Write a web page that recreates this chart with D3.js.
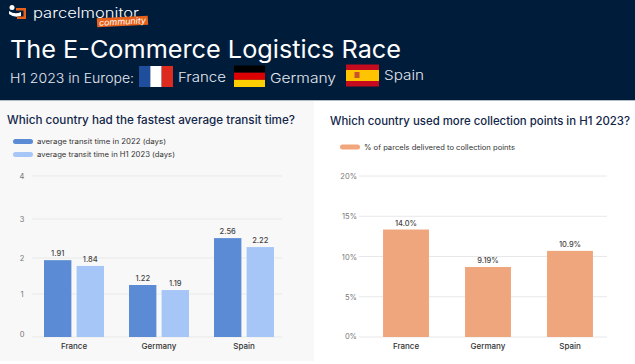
<!DOCTYPE html>
<html>
<head>
<meta charset="utf-8">
<script src="https://cdnjs.cloudflare.com/ajax/libs/d3/7.8.5/d3.min.js"></script>
<style>
html, body { margin: 0; padding: 0; background: #fff; overflow: hidden; }
text { font-family: Inter, "Noto Sans", sans-serif; }
</style>
</head>
<body>
<div id="chart"></div>
<script>
const countries = ["France", "Germany", "Spain"];

// bar heights read against the gridlines; the printed labels don't quite agree with them
const transit2022 = [1.94, 1.25, 2.51];
const transitH1 = [1.78, 1.11, 2.28];
const transit2022Labels = ["1.91", "1.22", "2.56"];
const transitH1Labels = ["1.84", "1.19", "2.22"];
const transitTicks = [0, 1, 2, 3, 4];

const collection = [13.35, 8.7, 10.7];
const collectionLabels = ["14.0%", "9.19%", "10.9%"];
const collectionTicks = [0, 5, 10, 15, 20];

const navy = "#001c3b";
const svg = d3.select("#chart").append("svg")
    .attr("width", 635)
    .attr("height", 364)
    .style("display", "block");

// backgrounds
svg.append("rect").attr("width", 635).attr("height", 100).attr("fill", navy);
svg.append("rect").attr("y", 100).attr("width", 635).attr("height", 1).attr("fill", "#b4bac6");
svg.append("rect").attr("y", 101).attr("width", 314).attr("height", 260).attr("fill", "#f8f8f8");

function label(x, y, str, size, fill, weight, len) {
    const t = svg.append("text")
        .attr("x", x)
        .attr("y", y)
        .attr("font-size", size)
        .attr("fill", fill)
        .attr("font-weight", weight || 400)
        .text(str);
    if (len) t.attr("textLength", len).attr("lengthAdjust", "spacingAndGlyphs");
    return t;
}

// logo
svg.append("circle").attr("cx", 12).attr("cy", 7.5).attr("r", 2.5).attr("fill", "#fff");
svg.append("path")
    .attr("d", "M9 11 Q15 15 21 12 L21 16 Q14 18 9 14 Z")
    .attr("fill", "#fff");
svg.append("path")
    .attr("d", "M16 8 H26 V19 H17 V16.5 H23.5 V10.5 H16 Z")
    .attr("fill", "#e8611a");
label(33, 18, "parcelmonitor", 14, "#fff", 300, 106);
svg.append("g")
    .attr("transform", "rotate(-3 123 22)")
    .call(g => {
        g.append("rect").attr("x", 97).attr("y", 17).attr("width", 51).attr("height", 9).attr("fill", "#e8611a");
        g.append("text").attr("x", 99).attr("y", 24.5).attr("font-size", 8.5).attr("fill", "#fff")
            .attr("font-style", "italic").attr("textLength", 47).attr("lengthAdjust", "spacingAndGlyphs").text("community");
    });

// header text
label(10, 58, "The E-Commerce Logistics Race", 24.5, "#fff", 400, 391);
label(10, 83, "H1 2023 in Europe:", 13.5, "#e4e8ee", 300, 124);
label(178, 82, "France", 13.5, "#e4e8ee", 300, 48);
label(270, 83, "Germany", 13.5, "#e4e8ee", 300, 66);
label(384, 80, "Spain", 13.5, "#e4e8ee", 300, 40);

// flags
function flag(x, y, w, h, stripes, vertical) {
    const total = d3.sum(stripes, d => d[1]);
    const s = d3.scaleLinear().domain([0, total]).range([0, vertical ? w : h]);
    let pos = 0;
    stripes.forEach(d => {
        svg.append("rect")
            .attr("x", vertical ? x + s(pos) : x)
            .attr("y", vertical ? y : y + s(pos))
            .attr("width", vertical ? s(d[1]) : w)
            .attr("height", vertical ? h : s(d[1]))
            .attr("fill", d[0]);
        pos += d[1];
    });
}
flag(139, 66, 34, 21, [["#1f4f9c", 1], ["#fff", 1], ["#de2b20", 1]], true);
flag(234, 65.5, 31, 21.5, [["#000", 1], ["#dd0000", 1], ["#ffce00", 1]], false);
flag(346, 64.5, 33, 22, [["#c60b1e", 1], ["#ffc400", 2], ["#c60b1e", 1]], false);
svg.append("rect").attr("x", 354.5).attr("y", 72).attr("width", 5).attr("height", 6).attr("fill", "#c8552a");

// left chart
label(7, 124, "Which country had the fastest average transit time?", 11.5, "#12264a", 500, 288);

const legendLeft = [["#5b8bd4", "average transit time in 2022 (days)"], ["#a6c6f7", "average transit time in H1 2023 (days)"]];
legendLeft.forEach((d, i) => {
    svg.append("rect").attr("x", 13).attr("y", 139 + i * 13).attr("width", 20).attr("height", 5)
        .attr("rx", 2.5).attr("fill", d[0]);
    label(37, 144 + i * 13, d[1], 7, "#333", 400, i ? 138 : 129);
});

const xLeft = d3.scaleBand().domain(countries).range([31.5, 286.5]);
const xLeftInner = d3.scaleBand().domain([0, 1]).range([0, 60]).paddingInner(0.16);
// gridlines in the picture aren't evenly spaced, so the scale is piecewise
const yLeft = d3.scaleLinear().domain(transitTicks).range([337, 294, 258, 219, 176]);

svg.append("g").selectAll("line").data(transitTicks).join("line")
    .attr("x1", 32).attr("x2", 282)
    .attr("y1", d => yLeft(d)).attr("y2", d => yLeft(d))
    .attr("stroke", "#e9e9e9");
svg.append("g").selectAll("text").data(transitTicks).join("text")
    .attr("x", 22).attr("y", d => yLeft(d) + (d === 0 ? -0.5 : 3))
    .attr("text-anchor", "middle").attr("font-size", 7.5).attr("fill", "#777")
    .text(d => d);

[[transit2022, transit2022Labels, "#5b8bd4"], [transitH1, transitH1Labels, "#a6c6f7"]].forEach((s, i) => {
    const g = svg.append("g");
    const bx = (d, j) => xLeft(countries[j]) + (xLeft.bandwidth() - 60) / 2 + xLeftInner(i);
    g.selectAll("rect").data(s[0]).join("rect")
        .attr("x", bx)
        .attr("y", d => yLeft(d))
        .attr("width", xLeftInner.bandwidth())
        .attr("height", d => yLeft(0) - yLeft(d))
        .attr("fill", s[2]);
    g.selectAll("text").data(s[0]).join("text")
        .attr("x", (d, j) => bx(d, j) + xLeftInner.bandwidth() / 2)
        .attr("y", d => yLeft(d) - 4)
        .attr("text-anchor", "middle").attr("font-size", 7.5).attr("font-weight", 500).attr("fill", "#444")
        .text((d, j) => s[1][j]);
});
svg.append("g").selectAll("text").data(countries).join("text")
    .attr("x", d => xLeft(d) + xLeft.bandwidth() / 2)
    .attr("y", 349)
    .attr("text-anchor", "middle").attr("font-size", 8).attr("font-weight", 500).attr("fill", "#333")
    .text(d => d);

// right chart
label(330, 125, "Which country used more collection points in H1 2023?", 11.5, "#12264a", 500, 300);
svg.append("rect").attr("x", 340).attr("y", 144.5).attr("width", 20).attr("height", 5).attr("rx", 2.5).attr("fill", "#f2a67c");
label(364, 150, "% of parcels delivered to collection points", 7, "#333", 400, 151);

const xRight = d3.scaleBand().domain(countries).range([365, 611]).paddingInner(0.44).paddingOuter(0.22);
const yRight = d3.scaleLinear().domain([0, 20]).range([337, 176]);

svg.append("g").selectAll("line").data(collectionTicks).join("line")
    .attr("x1", 359).attr("x2", 607)
    .attr("y1", d => yRight(d)).attr("y2", d => yRight(d))
    .attr("stroke", "#e8e8ea");
svg.append("g").selectAll("text").data(collectionTicks).join("text")
    .attr("x", 357).attr("y", d => yRight(d) + (d === 0 ? 1.5 : 3))
    .attr("text-anchor", "end").attr("font-size", 7.5).attr("fill", "#777")
    .text(d => d + "%");
svg.append("g").selectAll("rect").data(collection).join("rect")
    .attr("x", (d, j) => xRight(countries[j]))
    .attr("y", d => yRight(d))
    .attr("width", xRight.bandwidth())
    .attr("height", d => yRight(0) - yRight(d))
    .attr("fill", "#f0a67c");
svg.append("g").selectAll("text").data(collection).join("text")
    .attr("x", (d, j) => xRight(countries[j]) + xRight.bandwidth() / 2)
    .attr("y", d => yRight(d) - 4)
    .attr("text-anchor", "middle").attr("font-size", 7.5).attr("font-weight", 500).attr("fill", "#444")
    .text((d, j) => collectionLabels[j]);
svg.append("g").selectAll("text").data(countries).join("text")
    .attr("x", d => xRight(d) + xRight.bandwidth() / 2)
    .attr("y", 349)
    .attr("text-anchor", "middle").attr("font-size", 8).attr("font-weight", 500).attr("fill", "#333")
    .text(d => d);
</script>
</body>
</html>
